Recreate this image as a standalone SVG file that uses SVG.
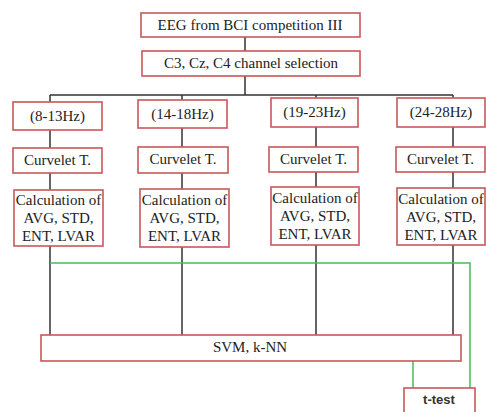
<svg xmlns="http://www.w3.org/2000/svg" width="486" height="412" viewBox="0 0 486 412">
<style>
.box{fill:#fff;stroke:#c8585a;stroke-width:1.6}
.t{font-family:"Liberation Serif",Tinos,"Times New Roman","DejaVu Serif",serif;font-size:15px;fill:#222;text-anchor:middle}
.s{font-family:"Liberation Sans",Arial,sans-serif;font-size:13px;font-weight:bold;fill:#333;text-anchor:middle}
.k{stroke:#333;stroke-width:1.5;fill:none}
.g{stroke:#4cb85a;stroke-width:1.5;fill:none}
</style>
<rect width="486" height="412" fill="#fff"/>
<g id="connectors">
<path class="k" d="M245 37V51M245 76V95M50 95H453M50 95V102M182 95V100M316 95V98M453 95V98"/>
<path class="k" d="M50 130V148M182 128V147M316 127V147M453 127V147"/>
<path class="k" d="M50 173V190M182 173V189M316 172V187M453 172V188"/>
<path class="k" d="M50 246V335M182 247V335M316 245V335M453 245V335"/>
<path class="g" d="M50 263H470V388M413 361V388"/>
</g>
<g id="eeg"><rect class="box" x="141" y="13" width="219" height="24"/><text class="t" x="250" y="30" font-family="Liberation Serif, serif">EEG from BCI competition III</text></g>
<g id="channel"><rect class="box" x="142" y="51" width="218" height="25"/><text class="t" x="251" y="68">C3, Cz, C4 channel selection</text></g>
<g id="band1"><rect class="box" x="13" y="102" width="89" height="28"/><text class="t" x="57.5" y="121">(8-13Hz)</text></g>
<g id="band2"><rect class="box" x="138" y="100" width="89" height="28"/><text class="t" x="182.5" y="119">(14-18Hz)</text></g>
<g id="band3"><rect class="box" x="271" y="98" width="87" height="29"/><text class="t" x="314.5" y="117">(19-23Hz)</text></g>
<g id="band4"><rect class="box" x="397" y="98" width="88" height="29"/><text class="t" x="441" y="117">(24-28Hz)</text></g>
<g id="curvelet1"><rect class="box" x="13" y="148" width="89" height="25"/><text class="t" x="57.5" y="165">Curvelet T.</text></g>
<g id="curvelet2"><rect class="box" x="138" y="147" width="90" height="26"/><text class="t" x="183" y="164">Curvelet T.</text></g>
<g id="curvelet3"><rect class="box" x="269" y="147" width="89" height="25"/><text class="t" x="313.5" y="164">Curvelet T.</text></g>
<g id="curvelet4"><rect class="box" x="396" y="147" width="89" height="25"/><text class="t" x="440.5" y="164">Curvelet T.</text></g>
<g id="calc1"><rect class="box" x="14" y="190" width="89" height="56"/><text class="t" x="58.5" y="205">Calculation of<tspan x="58.5" dy="18">AVG, STD,</tspan><tspan x="58.5" dy="18">ENT, LVAR</tspan></text></g>
<g id="calc2"><rect class="box" x="140" y="189" width="89" height="58"/><text class="t" x="184.5" y="205">Calculation of<tspan x="184.5" dy="18">AVG, STD,</tspan><tspan x="184.5" dy="18">ENT, LVAR</tspan></text></g>
<g id="calc3"><rect class="box" x="271" y="187" width="88" height="58"/><text class="t" x="315" y="203">Calculation of<tspan x="315" dy="18">AVG, STD,</tspan><tspan x="315" dy="18">ENT, LVAR</tspan></text></g>
<g id="calc4"><rect class="box" x="397" y="188" width="88" height="57"/><text class="t" x="441" y="204">Calculation of<tspan x="441" dy="18">AVG, STD,</tspan><tspan x="441" dy="18">ENT, LVAR</tspan></text></g>
<g id="svm"><rect class="box" x="41" y="335" width="420" height="26"/><text class="t" x="250" y="352" fill="#444">SVM, k-NN</text></g>
<g id="ttest"><rect class="box" x="404" y="388" width="71" height="30"/><text class="s" x="439" y="404">t-test</text></g>
</svg>
